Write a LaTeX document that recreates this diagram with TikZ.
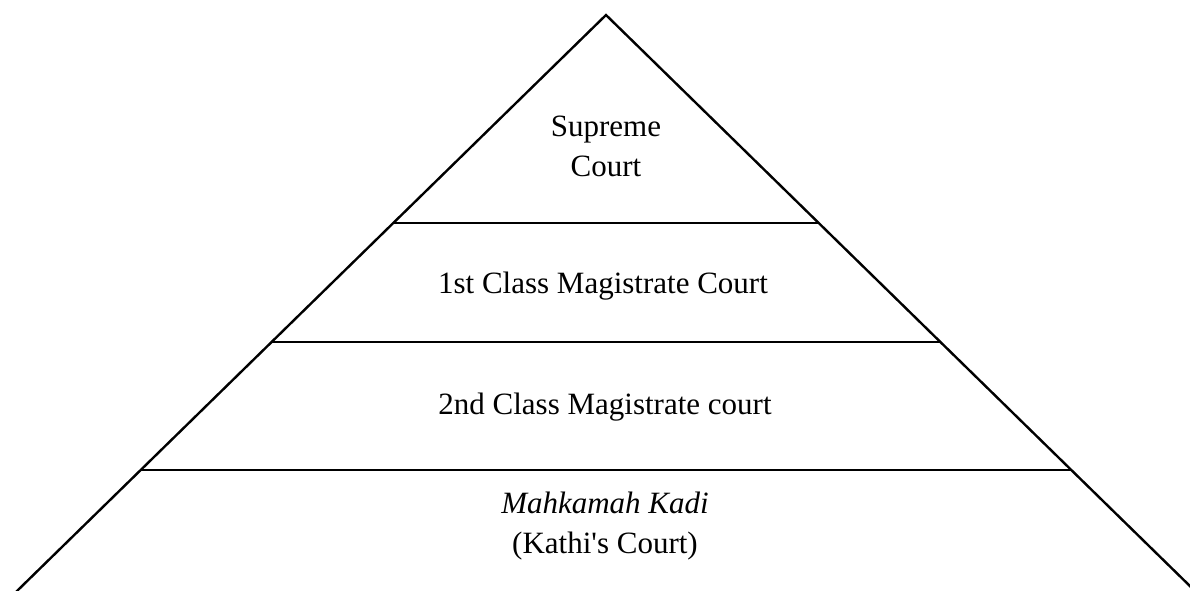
\documentclass[tikz,border=0pt]{standalone}
\usepackage{fontspec}
\setmainfont{Liberation Serif}
\usetikzlibrary{calc}
\begin{document}
\begin{tikzpicture}[x=1pt,y=-1pt,
  edge/.style={line width=2.4pt,line cap=butt,line join=miter},
  tier/.style={anchor=base,inner sep=0pt,font=\fontsize{31}{37}\selectfont}]
\useasboundingbox (0,0) rectangle (1190,590);
\clip (0,0) rectangle (1190,590);
% corners of the pyramid
\coordinate (apex) at (606,15);
\coordinate (bl) at (18,590);
\coordinate (br) at (1194,590);
% the sloping sides, continued past the lower edge
\draw[edge] ($(apex)!1.02!(bl)$) -- (apex) -- ($(apex)!1.02!(br)$);
% dividing lines between the tiers
\foreach \t/\n in {0.3617/a,0.5687/b,0.7913/c}{
  \coordinate (l\n) at ($(apex)!\t!(bl)$);
  \coordinate (r\n) at ($(apex)!\t!(br)$);
  \draw[edge] (l\n) -- (r\n);
}
% tier labels
\node[tier] (sup1) at (606,136) {Supreme};
\node[tier] (sup2) at (606,176) {Court};
\node[tier] (first) at (603,293) {1st Class Magistrate Court};
\node[tier] (second) at (605,414) {2nd Class Magistrate court};
\node[tier] (kadi) at (605,513) {\itshape Mahkamah Kadi};
\node[tier] (kathi) at (605,553) {(Kathi\textquotesingle s Court)};
\end{tikzpicture}
\end{document}
